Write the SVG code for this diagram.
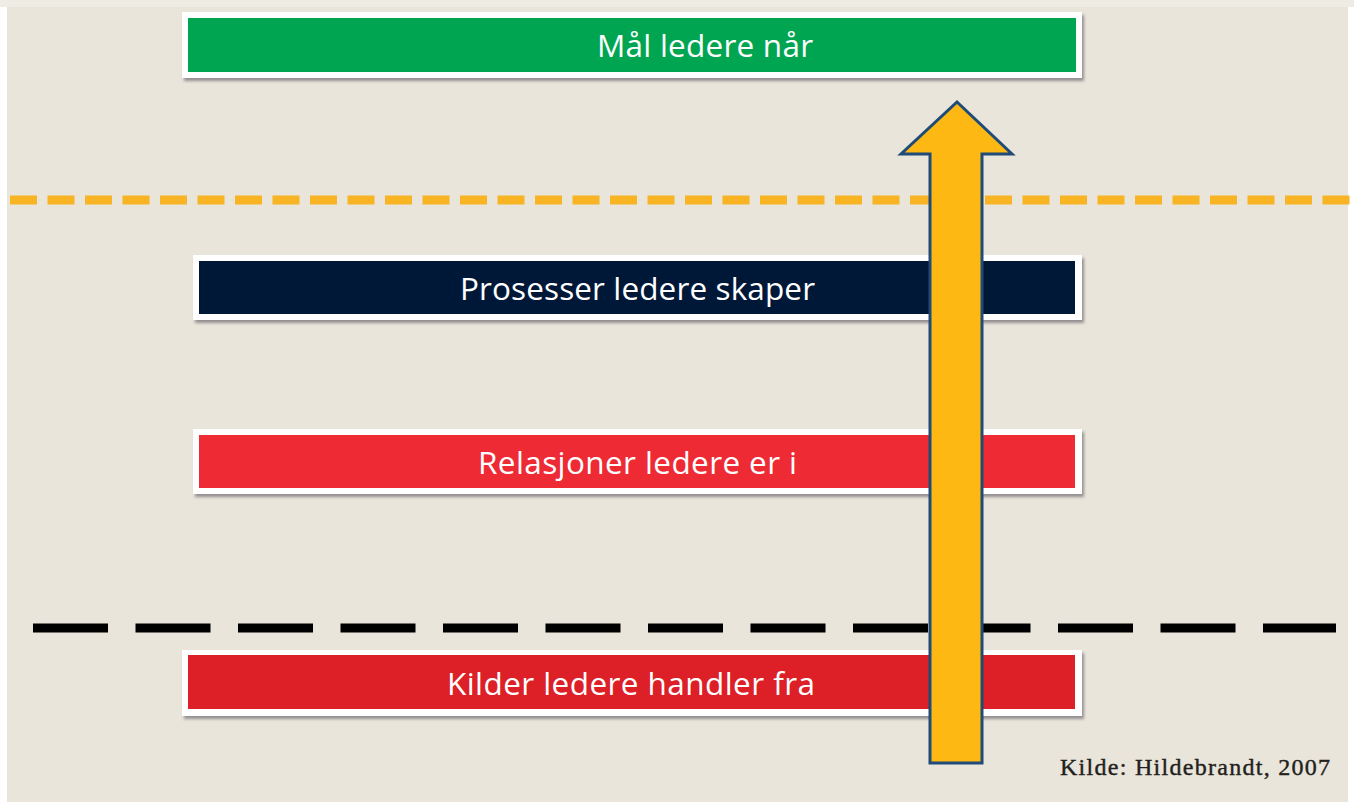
<svg xmlns="http://www.w3.org/2000/svg" width="1354" height="807" viewBox="0 0 1354 807">
  <style>
    .frame { fill: #ffffff; stroke: none; }
    .label { font-family: "Open Sans", "Liberation Sans", sans-serif; font-size: 31.5px; fill: #ffffff; }
    .source { font-family: "Liberation Serif", serif; font-size: 24px; fill: #231f1c; stroke: #231f1c; stroke-width: 0.4; }
    .sep-orange { stroke: #f8b423; stroke-width: 9; stroke-dasharray: 27 10.5; fill: none; }
    .sep-black { stroke: #000000; stroke-width: 9; stroke-dasharray: 75 27.5; fill: none; }
  </style>
  <defs>
    <filter id="shadow" x="-5%" y="-30%" width="110%" height="170%">
      <feDropShadow dx="2" dy="3" stdDeviation="1.6" flood-color="#5a5560" flood-opacity="0.6"/>
    </filter>
  </defs>

  <!-- page background with light edge -->
  <rect x="0" y="0" width="1354" height="807" fill="#ffffff"/>
  <rect x="0" y="0" width="1354" height="7" fill="#efece4"/>
  <rect x="7" y="7" width="1341" height="795" fill="#e9e5da"/>

  <!-- level separators -->
  <g id="separators">
    <line class="sep-orange" x1="10" y1="200" x2="1354" y2="200"/>
    <line class="sep-black" x1="33" y1="628" x2="1336" y2="628"/>
  </g>

  <g id="node-maal">
    <rect class="frame" x="182" y="12" width="900" height="66" filter="url(#shadow)"/>
    <rect x="188" y="18" width="888" height="54" fill="#00a551"/>
    <text class="label" x="597" y="57" textLength="216">Mål ledere når</text>
  </g>

  <g id="node-prosesser">
    <rect class="frame" x="193" y="255" width="889" height="65" filter="url(#shadow)"/>
    <rect x="199" y="261" width="876" height="53" fill="#001838"/>
    <text class="label" x="460" y="300" textLength="355">Prosesser ledere skaper</text>
  </g>

  <g id="node-relasjoner">
    <rect class="frame" x="193" y="429" width="889" height="65" filter="url(#shadow)"/>
    <rect x="199" y="435" width="876" height="53" fill="#ee2a34"/>
    <text class="label" x="478" y="474" textLength="319">Relasjoner ledere er i</text>
  </g>

  <g id="node-kilder">
    <rect class="frame" x="182" y="650" width="900" height="66" filter="url(#shadow)"/>
    <rect x="188" y="655" width="887" height="54" fill="#dd1f27"/>
    <text class="label" x="447" y="695" textLength="368">Kilder ledere handler fra</text>
  </g>

  <!-- upward block arrow across all levels -->
  <g id="connectors">
    <path d="M930,763 L930,154 L901,154 L957,102 L1012,154 L982,154 L982,763 Z"
          fill="#fdb813" stroke="#1f4b78" stroke-width="3" stroke-linejoin="miter"/>
  </g>

  <text class="source" x="1060" y="775" textLength="270">Kilde: Hildebrandt, 2007</text>
</svg>
